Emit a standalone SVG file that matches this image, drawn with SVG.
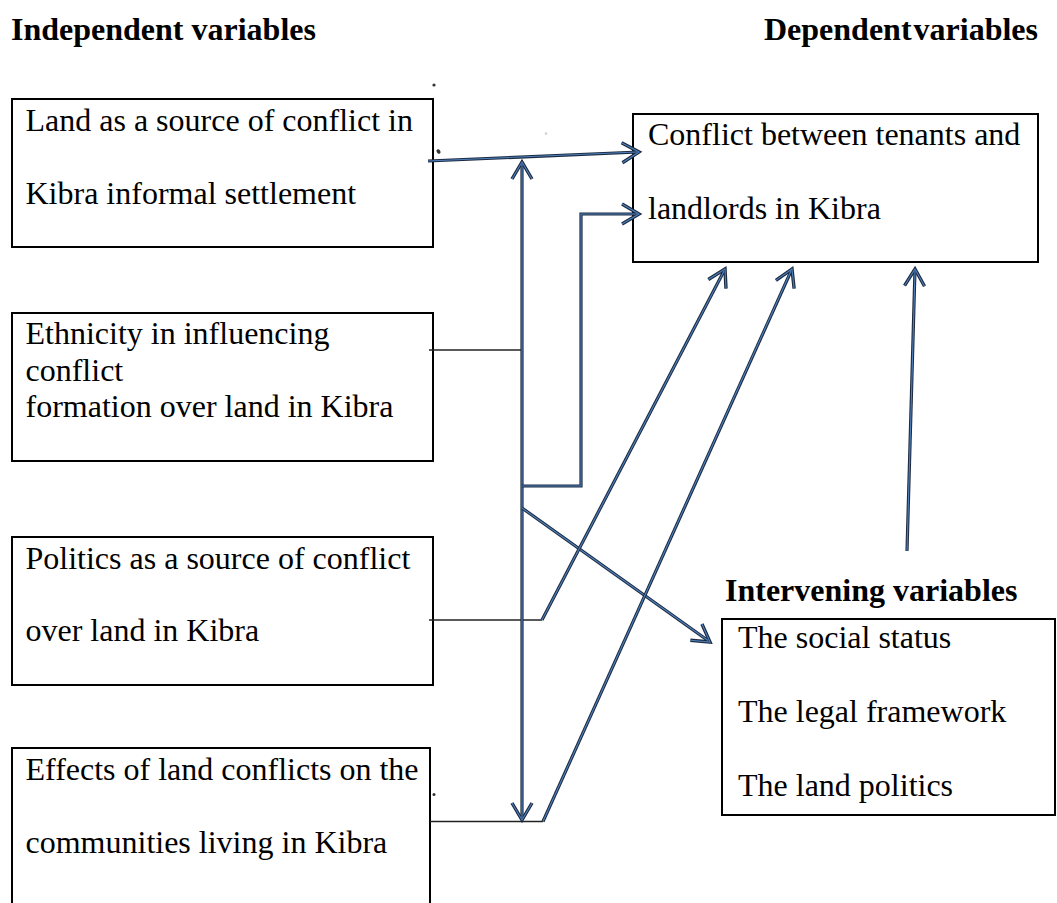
<svg xmlns="http://www.w3.org/2000/svg" width="1057" height="903" viewBox="0 0 1057 903">
<style>
.bg{fill:#ffffff}
.box{fill:#ffffff;stroke:#000000;stroke-width:2}
.t{font-family:"Liberation Serif","Times New Roman",serif;font-size:32px;fill:#000000}
.h{font-family:"Liberation Serif","Times New Roman",serif;font-size:32px;font-weight:bold;fill:#000000}
.co{fill:none;stroke:#1c2a40;stroke-width:3.2;stroke-linejoin:miter}
.ci{fill:none;stroke:#4f81bd;stroke-width:1.1}
.thin{fill:none;stroke:#222222;stroke-width:1.6}
.dot{fill:#333333}
</style>
<defs>
<marker id="ah" markerUnits="userSpaceOnUse" orient="auto-start-reverse" refX="0" refY="0" markerWidth="40" markerHeight="40" viewBox="-20 -20 40 40" overflow="visible">
<polyline points="-17,-10 0,0 -17,10" fill="none" stroke="#1c2a40" stroke-width="3.4" stroke-linejoin="miter"/>
<polyline points="-17,-10 0,0 -17,10" fill="none" stroke="#4f81bd" stroke-width="1.1"/>
</marker>
</defs>
<rect class="bg" x="0" y="0" width="1057" height="903"/>

<g id="headings">
<text class="h" x="11" y="40">Independent variables</text>
<text class="h" x="764" y="40" word-spacing="-6">Dependent variables</text>
</g>

<g id="node-land">
<rect class="box" x="12" y="99" width="421" height="148"/>
<text class="t" x="25.5" y="130.5">Land as a source of conflict in</text>
<text class="t" x="25.5" y="203.5">Kibra informal settlement</text>
</g>

<g id="node-ethnicity">
<rect class="box" x="12" y="313" width="421" height="148"/>
<text class="t" x="25.5" y="343.5">Ethnicity in influencing</text>
<text class="t" x="25.5" y="380.5">conflict</text>
<text class="t" x="25.5" y="417">formation over land in Kibra</text>
</g>

<g id="node-politics">
<rect class="box" x="12" y="537" width="421" height="148"/>
<text class="t" x="25.5" y="568.5">Politics as a source of conflict</text>
<text class="t" x="25.5" y="641">over land in Kibra</text>
</g>

<g id="node-effects">
<rect class="box" x="12" y="748" width="418" height="170"/>
<text class="t" x="25.5" y="779.5">Effects of land conflicts on the</text>
<text class="t" x="25.5" y="853">communities living in Kibra</text>
</g>

<g id="node-dependent">
<rect class="box" x="633" y="114" width="405" height="148"/>
<text class="t" x="648" y="145">Conflict between tenants and</text>
<text class="t" x="648" y="218.5">landlords in Kibra</text>
</g>

<g id="node-intervening">
<text class="h" x="725" y="601">Intervening variables</text>
<rect class="box" x="722" y="619" width="333" height="196"/>
<text class="t" x="738" y="648">The social status</text>
<text class="t" x="738" y="722">The legal framework</text>
<text class="t" x="738" y="796">The land politics</text>
</g>

<g id="connectors">
<path class="thin" d="M429,350 H522"/>
<path class="thin" d="M429,620 H542"/>
<path class="thin" d="M430,821.5 H543"/>

<path class="co" d="M428,161 L639,152" marker-end="url(#ah)"/>
<path class="ci" d="M428,161 L637,152"/>

<path class="co" d="M522,162 V820" marker-start="url(#ah)" marker-end="url(#ah)"/>
<path class="ci" d="M522,164 V818"/>

<path class="co" d="M522,486 H581 V214 H639" marker-end="url(#ah)"/>
<path class="ci" d="M522,486 H581 V214 H637"/>

<path class="co" d="M522,508 L710,642" marker-end="url(#ah)"/>
<path class="ci" d="M522,508 L708,640.5"/>

<path class="co" d="M542,620 L725,269" marker-end="url(#ah)"/>
<path class="ci" d="M542,620 L724,271"/>

<path class="co" d="M543,821.5 L792,269" marker-end="url(#ah)"/>
<path class="ci" d="M543,821.5 L791,271"/>

<path class="co" d="M907,551 L915,269" marker-end="url(#ah)"/>
<path class="ci" d="M907,551 L915,271"/>
</g>

<g id="marks">
<circle class="dot" cx="434" cy="85" r="1.6"/>
<ellipse class="dot" cx="438.5" cy="151.5" rx="1.8" ry="2.4" transform="rotate(-35 438.5 151.5)"/>
<circle class="dot" cx="434" cy="794.5" r="1.5"/>
<circle fill="#cccccc" cx="546" cy="133.5" r="1.2"/>
</g>
</svg>
